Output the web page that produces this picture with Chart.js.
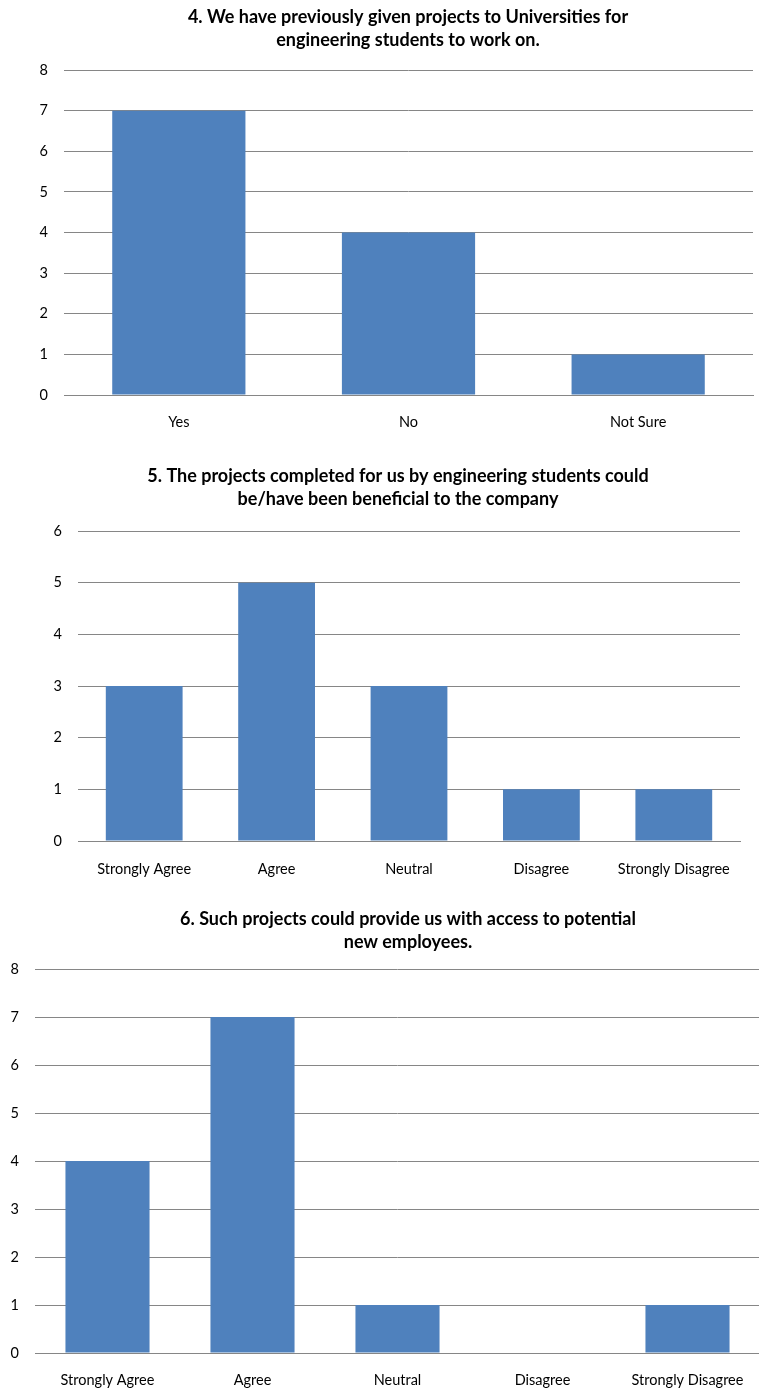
<!DOCTYPE html>
<html>
<head>
<meta charset="utf-8">
<script src="https://cdn.jsdelivr.net/npm/chart.js@4"></script>
<style>
  html, body { margin: 0; background: #fff; overflow: hidden; width: 759px; height: 1389px; }
  .box { position: absolute; left: 0; }
</style>
</head>
<body>
<div class="box" style="top:0;width:816px;height:455px"><canvas id="c1"></canvas></div>
<div class="box" style="top:455px;width:796px;height:448px"><canvas id="c2"></canvas></div>
<div class="box" style="top:898px;width:816px;height:510px"><canvas id="c3"></canvas></div>
<script>
const q4Labels = ["Yes", "No", "Not Sure"];
const q4Values = [7, 4, 1];

const likertLabels = ["Strongly Agree", "Agree", "Neutral", "Disagree", "Strongly Disagree"];
const q5Values = [3, 5, 3, 1, 1];
const q6Values = [4, 7, 1, 0, 1];

const q4Title = ["4. We have previously given projects to Universities for", "engineering students to work on."];
const q5Title = ["5. The projects completed for us by engineering students could", "be/have been beneficial to the company"];
const q6Title = ["6. Such projects could provide us with access to potential", "new employees."];

const font = "Lato, 'Open Sans', sans-serif";
Chart.defaults.font.family = font;
Chart.defaults.color = "#000";

function makeChart(id, labels, values, title, yMax, axisW, rightW, pad, titleGap, tickPad) {
  return new Chart(document.getElementById(id), {
    type: "bar",
    data: {
      labels,
      datasets: [{
        data: values,
        backgroundColor: "#4F81BD",
        barPercentage: 0.58,
        categoryPercentage: 1,
      }],
    },
    options: {
      responsive: true,
      maintainAspectRatio: false,
      animation: false,
      layout: { padding: pad },
      plugins: {
        legend: { display: false },
        tooltip: { enabled: false },
        title: {
          display: true,
          text: title,
          font: { size: 18, weight: "bold", lineHeight: "23px" },
          color: "#000",
          padding: { top: 0, bottom: titleGap },
        },
      },
      scales: {
        x: {
          grid: { display: false, drawTicks: false },
          border: { display: true, color: "#868686", width: 1 },
          ticks: { font: { size: 14.5, lineHeight: "18px" }, padding: tickPad },
        },
        y: {
          min: 0,
          max: yMax,
          afterFit: (s) => { s.width = axisW; },
          grid: { color: "#868686", drawTicks: false },
          border: { display: false },
          ticks: { stepSize: 1, font: { size: 14.5 }, padding: 16 },
        },
        // empty right-hand axis: keeps the plot narrower while the title centres over the wider canvas
        yRight: {
          position: "right",
          min: 0,
          max: yMax,
          afterFit: (s) => { s.width = rightW; },
          grid: { display: false, drawTicks: false },
          border: { display: false },
          ticks: { display: false },
        },
      },
    },
  });
}

makeChart("c1", q4Labels, q4Values, q4Title, 8, 64, 63, { top: 6, right: 0, bottom: 6, left: 0 }, 18, 18);
makeChart("c2", likertLabels, q5Values, q5Title, 6, 78, 56, { top: 10, right: 0, bottom: 6, left: 0 }, 20, 19);
makeChart("c3", likertLabels, q6Values, q6Title, 8, 35, 56, { top: 10, right: 0, bottom: 1, left: 0 }, 15, 18);
</script>
</body>
</html>
